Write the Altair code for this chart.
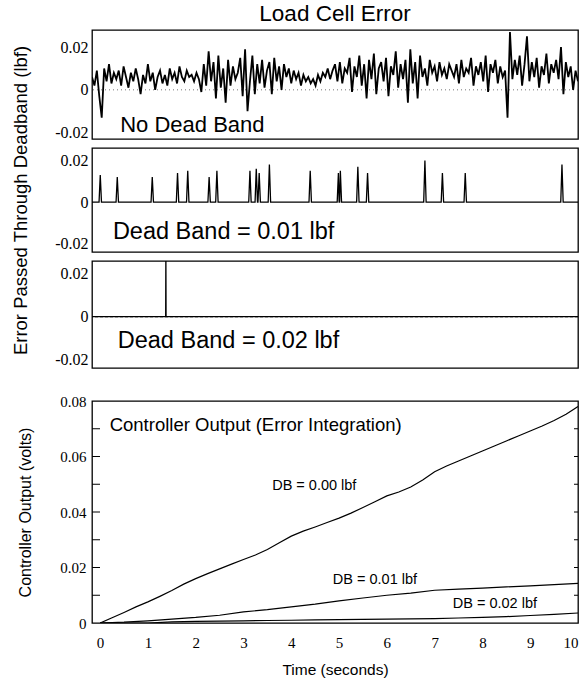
import altair as alt
import pandas as pd

# ---------------- data ----------------
# Panel 1: load cell error, no dead band (lbf), sampled every 0.05 s from t = 0
err_step = 0.05
err_nodb = [
    0.006, 0.002, 0.009, -0.003, -0.013, 0.010, 0.004, 0.012, 0.003, 0.008,
    0.005, 0.009, 0.002, 0.011, 0.006, 0.001, 0.008, 0.004, 0.010, 0.005,
    -0.002, 0.007, 0.003, 0.012, 0.004, 0.008, 0.000, 0.006, 0.009, 0.003,
    0.007, 0.002, 0.010, 0.005, 0.008, 0.003, 0.011, 0.006, 0.004, 0.009,
    0.006, 0.007, 0.004, 0.008, 0.005, -0.001, 0.012, 0.002, 0.018, 0.004,
    0.013, -0.004, 0.016, 0.001, 0.010, -0.006, 0.014, 0.002, 0.011, 0.005,
    0.008, 0.015, -0.003, 0.019, -0.010, 0.004, 0.016, -0.002, 0.012, 0.003,
    0.014, 0.001, 0.009, 0.013, -0.002, 0.015, 0.004, 0.011, 0.000, 0.012,
    0.006, 0.010, 0.003, 0.009, 0.005, 0.008, 0.002, 0.007, 0.004, 0.006,
    0.003, 0.005, 0.002, 0.007, 0.004, 0.008, 0.006, 0.010, 0.005, 0.009,
    0.012, 0.004, 0.013, 0.003, 0.010, 0.008, 0.015, -0.001, 0.011, 0.006,
    0.016, 0.002, 0.012, -0.004, 0.014, 0.005, 0.017, -0.002, 0.010, 0.013,
    0.004, 0.015, -0.003, 0.011, 0.007, 0.018, 0.001, 0.012, 0.005, 0.014,
    -0.006, 0.019, 0.003, 0.013, -0.004, 0.016, 0.006, 0.010, 0.002, 0.014,
    0.008, 0.011, 0.004, 0.013, 0.007, 0.010, 0.005, 0.012, 0.009, 0.006,
    0.012, 0.003, 0.014, 0.006, 0.010, 0.008, 0.015, 0.002, 0.011, 0.007,
    0.013, 0.004, 0.016, -0.001, 0.012, 0.008, 0.014, 0.003, 0.011, 0.006,
    0.009, -0.013, 0.027, 0.005, 0.014, 0.007, 0.016, 0.002, 0.012, 0.025,
    0.004, 0.013, 0.006, 0.015, 0.001, 0.011, 0.007, 0.017, 0.003, 0.012,
    0.008, 0.014, 0.005, 0.020, -0.002, 0.013, 0.006, 0.011, 0.000, 0.009, 0.004,
]

# Panel 2: dead band 0.01 lbf -> spikes (time s, height lbf)
db1_spike_t = [0.17, 0.52, 1.24, 1.76, 1.97, 2.41, 2.57, 3.25, 3.38, 3.44, 3.65,
               4.49, 5.07, 5.11, 5.47, 5.67, 6.85, 7.21, 7.68, 9.67]
db1_spike_h = [0.013, 0.012, 0.012, 0.014, 0.015, 0.012, 0.015, 0.015, 0.016, 0.014, 0.018,
               0.015, 0.014, 0.015, 0.017, 0.014, 0.020, 0.014, 0.014, 0.018]

# Panel 3: dead band 0.02 lbf -> a single spike
db2_spike_t = [1.52]
db2_spike_h = [0.030]

# Panel 4: controller output (volts)
ctrl0_t = [0.0, 0.25, 0.5, 0.75, 1.0, 1.25, 1.5, 1.75, 2.0, 2.25, 2.5, 2.75, 3.0, 3.25,
           3.5, 3.75, 4.0, 4.25, 4.5, 4.75, 5.0, 5.25, 5.5, 5.75, 6.0, 6.25, 6.5, 6.75,
           7.0, 7.25, 7.5, 7.75, 8.0, 8.25, 8.5, 8.75, 9.0, 9.25, 9.5, 9.75, 10.0]
ctrl_db0 = [0.0000, 0.0019, 0.0038, 0.0058, 0.0076, 0.0096, 0.0117, 0.0140, 0.0160,
            0.0178, 0.0195, 0.0212, 0.0229, 0.0245, 0.0265, 0.0289, 0.0313, 0.0331,
            0.0346, 0.0362, 0.0378, 0.0396, 0.0416, 0.0437, 0.0458, 0.0472, 0.0490,
            0.0515, 0.0545, 0.0566, 0.0584, 0.0602, 0.0620, 0.0638, 0.0656, 0.0674,
            0.0692, 0.0710, 0.0730, 0.0752, 0.0780]
ctrl1_t = [0.0, 0.5, 1.0, 1.5, 2.0, 2.5, 3.0, 3.5, 4.0, 4.5, 5.0, 5.5, 6.0, 6.5,
           7.0, 7.5, 8.0, 8.5, 9.0, 9.5, 10.0]
ctrl_db1 = [0.0000, 0.0003, 0.0008, 0.0014, 0.0020, 0.0028, 0.0040, 0.0048, 0.0058,
            0.0068, 0.0080, 0.0090, 0.0100, 0.0108, 0.0118, 0.0122, 0.0126, 0.0130,
            0.0134, 0.0138, 0.0143]
ctrl_db2 = [0.0000, 0.0000, 0.0000, 0.0004, 0.0006, 0.0007, 0.0008, 0.0009, 0.0010,
            0.0011, 0.0012, 0.0013, 0.0014, 0.0015, 0.0016, 0.0018, 0.0020, 0.0023,
            0.0027, 0.0031, 0.0036]

err_ticks = [-0.02, 0, 0.02]
ctrl_ticks = [0, 0.02, 0.04, 0.06, 0.08]
ctrl_minor_ticks = [0.01, 0.02, 0.03, 0.04, 0.05, 0.06, 0.07]
time_ticks = [0, 1, 2, 3, 4, 5, 6, 7, 8, 9, 10]

# ---------------- tables ----------------
df1 = pd.DataFrame({"t": [i * err_step for i in range(len(err_nodb))], "v": err_nodb})


def spikes(ts, hs, half=0.025):
    pts = [(0.0, 0.0), (10.0, 0.0)]
    for t, h in zip(ts, hs):
        pts += [(t - half, 0.0), (t, h), (t + half, 0.0)]
    pts.sort()
    return pd.DataFrame(pts, columns=["t", "v"])


df2 = spikes(db1_spike_t, db1_spike_h)
df3 = spikes(db2_spike_t, db2_spike_h, half=0.004)
dfc = pd.concat([
    pd.DataFrame({"t": ctrl0_t, "v": ctrl_db0, "s": "DB0"}),
    pd.DataFrame({"t": ctrl1_t, "v": ctrl_db1, "s": "DB1"}),
    pd.DataFrame({"t": ctrl1_t, "v": ctrl_db2, "s": "DB2"}),
])

SANS = "Liberation Sans"
SERIF = "Liberation Serif"
W = 486
xs = alt.Scale(domain=[0, 10], nice=False, zero=False)
xs4 = alt.Scale(domain=[-0.17, 10], nice=False, zero=False)
err_label = "datum.value > 0 ? '0.02' : (datum.value < 0 ? '-0.02' : '0')"


def err_y(domain, title=None):
    kw = dict(values=err_ticks, labelExpr=err_label, ticks=False, grid=False,
              domain=False, labelFont=SERIF, labelFontSize=16, labelPadding=4)
    if title:
        kw.update(title=title, titleFont=SANS, titleFontSize=18.5, titleFontWeight="normal",
                  titlePadding=24)
    else:
        kw.update(title=None)
    return alt.Y("v:Q", scale=alt.Scale(domain=domain, nice=False, zero=False),
                 axis=alt.Axis(**kw))


def label(text, t, v, size=22, scale=xs):
    d = pd.DataFrame({"t": [t], "v": [v], "txt": [text]})
    return alt.Chart(d).mark_text(font=SANS, fontSize=size, align="left",
                                  baseline="middle", color="black").encode(
        x=alt.X("t:Q", scale=scale), y=alt.Y("v:Q"), text="txt:N")


# Panel 1
dom1 = [-0.023, 0.028]
zero1 = alt.Chart(pd.DataFrame({"v": [0]})).mark_rule(
    color="#777", strokeDash=[1, 3], strokeWidth=1).encode(y=alt.Y("v:Q"))
line1 = alt.Chart(df1).mark_line(color="black", strokeWidth=1.8, clip=True).encode(
    x=alt.X("t:Q", scale=xs, axis=None), y=err_y(dom1))
p1 = alt.layer(zero1, line1, label("No Dead Band", 0.58, -0.0165)).properties(
    width=W, height=109,
    title=alt.TitleParams("Load Cell Error", font=SANS, fontSize=22.5, fontWeight="normal",
                          anchor="middle", offset=5, color="black"))

# Panel 2
dom2 = [-0.024, 0.026]
line2 = alt.Chart(df2).mark_line(color="black", strokeWidth=1.3, clip=True).encode(
    x=alt.X("t:Q", scale=xs, axis=None),
    y=err_y(dom2, "Error Passed Through Deadband (lbf)"))
p2 = alt.layer(line2, label("Dead Band = 0.01 lbf", 0.43, -0.0145, 23.5)).properties(
    width=W, height=104)

# Panel 3
zero3 = alt.Chart(pd.DataFrame({"v": [0]})).mark_rule(
    color="black", strokeDash=[3, 2], strokeWidth=1.2).encode(y=alt.Y("v:Q"))
line3 = alt.Chart(df3).mark_line(color="black", strokeWidth=1.3, clip=True).encode(
    x=alt.X("t:Q", scale=xs, axis=None), y=err_y(dom2))
p3 = alt.layer(zero3, line3, label("Dead Band = 0.02 lbf", 0.53, -0.0114, 23.5)).properties(
    width=W, height=107)

# invisible spacer between the error panels and the controller panel
spacer = alt.Chart(pd.DataFrame({"v": [0]})).mark_point(opacity=0).encode(
    x=alt.X("v:Q", axis=None), y=alt.Y("v:Q", axis=None)).properties(
    width=W, height=15, view=alt.ViewBackground(strokeOpacity=0))

# Panel 4
ys4 = alt.Scale(domain=[0, 0.08], nice=False)
lines4 = alt.Chart(dfc).mark_line(color="black", strokeWidth=1.2, clip=True).encode(
    x=alt.X("t:Q", scale=xs4,
            axis=alt.Axis(values=time_ticks, format="d", title="Time (seconds)", grid=False,
                          ticks=False, domain=False, labelFont=SERIF, labelFontSize=15,
                          labelPadding=12, labelFlush=True, titleFont=SANS,
                          titleFontSize=15.5, titleFontWeight="normal", titlePadding=12)),
    y=alt.Y("v:Q", scale=ys4,
            axis=alt.Axis(values=ctrl_ticks, title="Controller Output (volts)",
                          labelExpr="datum.value == 0 ? '0' : format(datum.value, '.2f')",
                          grid=False, ticks=False, domain=False, labelFont=SERIF,
                          labelFontSize=15, labelPadding=6, titleFont=SANS,
                          titleFontSize=16, titleFontWeight="normal", titlePadding=26)),
    detail="s:N")
minor_df = pd.DataFrame({"v": ctrl_minor_ticks})
lt = alt.Chart(minor_df).mark_rule(color="black", strokeWidth=1).encode(
    y=alt.Y("v:Q", scale=ys4), x=alt.value(0), x2=alt.value(8))
rt = alt.Chart(minor_df).mark_rule(color="black", strokeWidth=1).encode(
    y=alt.Y("v:Q", scale=ys4), x=alt.value(W - 4), x2=alt.value(W))
p4 = alt.layer(
    lines4, lt, rt,
    label("Controller Output (Error Integration)", 0.2, 0.0715, 18.5, xs4),
    label("DB = 0.00 lbf", 3.6, 0.0494, 14.5, xs4),
    label("DB = 0.01 lbf", 4.87, 0.0155, 14.5, xs4),
    label("DB = 0.02 lbf", 7.38, 0.0068, 14.5, xs4),
).properties(width=W, height=222)

chart = alt.vconcat(p1, p2, p3, spacer, p4, spacing=9, bounds="flush").properties(
    padding={"left": 11, "top": 1, "right": 4, "bottom": 4}
).configure_view(stroke="black", strokeWidth=1.3).configure_axis(
    labelColor="black", titleColor="black")

chart.save("out.html", embed_options={"renderer": "svg", "actions": False})
